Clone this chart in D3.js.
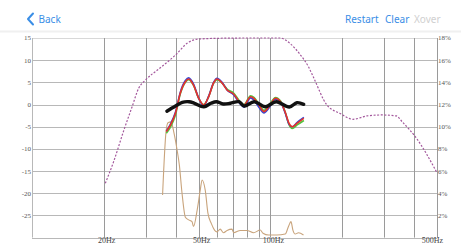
<!DOCTYPE html>
<html lang="en">
<head>
<meta charset="UTF-8">
<title>Measurement</title>
<script src="https://d3js.org/d3.v7.min.js"></script>
<style>
  body { margin: 0; background: #fff; }
  .nav { font: 10px "Noto Sans", "Liberation Sans", sans-serif; }
  .tick-label { font: 7px "Liberation Serif", "DejaVu Serif", serif; fill: #555; }
  .x-label { font: 8px "Liberation Serif", "DejaVu Serif", serif; fill: #444; }
</style>
</head>
<body>
<svg width="461" height="244"></svg>
<script>
// ---- data ----
const dbTicks = [15, 10, 5, 0, -5, -10, -15, -20, -25];
const pctTicks = [18, 16, 14, 12, 10, 8, 6, 4, 2];
const freqGrid = [20, 30, 40, 50, 60, 70, 80, 90, 100, 200, 300, 400, 500];
const freqLabels = [20, 50, 100, 500];

// dashed purple curve, right axis (%)
const purpleFreq = [20.3, 22.0, 24.3, 26.3, 28.0, 29.9, 34.0, 40.0, 44.9, 49.6, 59.9, 80, 100, 110, 121, 133.4, 144.5, 151.3, 172.6, 196, 222, 254, 293, 338, 357, 410, 500];
const purplePct  = [4.9, 6.85, 9.7, 11.8, 13.46, 14.2, 15.2, 16.47, 17.55, 17.9, 17.97, 18, 18, 18, 17.5, 16.5, 15.4, 14.5, 11.96, 11.2, 10.67, 10.97, 11.06, 10.97, 10.45, 8.96, 5.85];

// measured responses (dB)
const respFreq = [36.6, 38.1, 40.0, 41.9, 44.0, 45.4, 47.6, 50.0, 52.5, 55.1, 57.8, 59.7, 62.7, 65.8, 70.1, 75.0, 77.5, 82.6, 85.3, 89.5, 94.0, 98.6, 105.1, 110.3, 115.7, 119.6, 123.5, 129.6, 138.2];
const redDb   = [-6.1, -4.6, -1.9, 2.6, 5.15, 5.76, 4.4, 1.47, -0.1, 1.77, 4.86, 5.76, 4.86, 3.28, 2.38, 0.28, -0.1, 1.77, 1.4, -0.1, -1.6, -0.5, 1.4, 0.64, -1.9, -4.2, -5.0, -4.2, -3.1];
const blueDb  = [-6.0, -4.4, -1.7, 2.8, 5.4, 6.0, 4.6, 1.5, -0.3, 1.9, 5.0, 5.9, 5.0, 3.3, 2.2, 0.0, -0.6, 1.5, 1.0, -0.6, -1.9, -0.8, 1.2, 0.5, -2.1, -4.4, -5.0, -4.0, -2.9];
const greenDb = [-6.5, -5.1, -2.3, 2.4, 5.0, 5.6, 4.3, 1.4, 0.0, 1.8, 4.8, 5.6, 4.9, 3.5, 2.6, 0.5, 0.0, 1.95, 1.6, 0.1, -1.3, -0.2, 1.6, 0.8, -1.9, -4.5, -5.4, -4.6, -3.6];

// target curve (dB)
const targetFreq = [36.8, 40.0, 42.7, 45.6, 48.0, 52.6, 56.3, 59.3, 63.4, 67.9, 73.8, 77.7, 85.6, 95.1, 105.8, 120, 129.2, 138];
const targetDb   = [-1.5, -0.33, 0.5, 0.64, 0.28, -0.5, 0.28, 0.64, 0.12, 0.28, 0.64, -0.33, 0.64, -0.5, 0.64, -0.55, 0.41, 0.05];

// brown trace (dB)
const brownFreq = [35.3, 36.5, 37.2, 38.3, 39.3, 40.6, 41.5, 42.6, 44.0, 45.4, 46.9, 47.6, 49.3, 50.8, 51.7, 53.3, 54.7, 56.5, 58.3, 59.7, 61.6, 63.6, 65.8, 69.0, 70.1, 74.8, 79.7, 85.0, 90.7, 93.1, 98.2, 106.5, 115.4, 119.1, 122.0, 124.3, 127.1, 131.2, 137.7];
const brownDb   = [-20.4, -6.1, -4.1, -3.9, -6.1, -10.2, -13.6, -20.0, -25.4, -26.0, -26.4, -27.5, -23.8, -19.3, -17.0, -19.3, -24.5, -26.8, -28.3, -28.7, -28.1, -28.9, -28.4, -28.1, -28.9, -28.4, -28.4, -28.9, -28.3, -29.0, -29.4, -29.4, -29.2, -27.5, -26.4, -28.3, -29.2, -28.9, -29.4];

// ---- layout ----
const svg = d3.select("svg");
const plotLeft = 32, plotRight = 437, plotTop = 38, plotBottom = 237.6;

const x = d3.scaleLog().domain([10, 500]).range([plotLeft, plotRight]);
const yDb = d3.scaleLinear().domain([-30, 15]).range([plotBottom, plotTop]);
const yPct = d3.scaleLinear().domain([0, 18]).range([plotBottom, plotTop]);

// nav bar
const nav = svg.append("g").attr("class", "nav");
nav.append("path")
    .attr("d", "M33,13.5 L28,19 L33,24.5")
    .attr("fill", "none")
    .attr("stroke", "#3a8ee6")
    .attr("stroke-width", 2)
    .attr("stroke-linecap", "round")
    .attr("stroke-linejoin", "round");
nav.append("text").attr("x", 38.5).attr("y", 22.5).attr("fill", "#3a8ee6").text("Back");
nav.append("text").attr("x", 345).attr("y", 22.5).attr("fill", "#3a8ee6").text("Restart");
nav.append("text").attr("x", 385).attr("y", 22.5).attr("fill", "#3a8ee6").text("Clear");
nav.append("text").attr("x", 414).attr("y", 22.5).attr("fill", "#d0d0d0").text("Xover");
svg.append("rect").attr("x", 0).attr("y", 30.5).attr("width", 461).attr("height", 2).attr("fill", "#f0f0f0");

// grid
const grid = svg.append("g");
grid.selectAll("line.h")
    .data(d3.range(-30, 16, 5))
    .enter().append("line")
    .attr("x1", plotLeft).attr("x2", plotRight)
    .attr("y1", d => Math.round(yDb(d)) + 0.5)
    .attr("y2", d => Math.round(yDb(d)) + 0.5)
    .attr("stroke", d => d === 15 ? "#d8d8d8" : "#b8b8b8");

grid.selectAll("line.v")
    .data(freqGrid)
    .enter().append("line")
    .attr("y1", plotTop).attr("y2", plotBottom)
    .attr("x1", d => Math.round(x(d)) + 0.5)
    .attr("x2", d => Math.round(x(d)) + 0.5)
    .attr("stroke", "#9a9a9a");

grid.append("line")
    .attr("x1", plotLeft + 0.5).attr("x2", plotLeft + 0.5)
    .attr("y1", plotTop).attr("y2", plotBottom)
    .attr("stroke", "#b8b8b8");

// tick labels
svg.selectAll("text.l")
    .data(dbTicks)
    .enter().append("text")
    .attr("class", "tick-label")
    .attr("x", 31).attr("y", d => yDb(d))
    .attr("dy", "0.35em")
    .attr("text-anchor", "end")
    .text(d => d);

svg.selectAll("text.r")
    .data(pctTicks)
    .enter().append("text")
    .attr("class", "tick-label")
    .attr("x", 438).attr("y", d => yPct(d))
    .attr("dy", "0.35em")
    .text(d => d + "%");

svg.selectAll("text.x")
    .data(freqLabels)
    .enter().append("text")
    .attr("class", "x-label")
    .attr("x", d => d === 500 ? x(d) + 6 : x(d) + 3)
    .attr("y", 243)
    .attr("text-anchor", d => d === 500 ? "end" : "middle")
    .text(d => d + "Hz");

// curves
const lineOf = (fs, vs, ys) => d3.line()
    .x((d, i) => x(fs[i]))
    .y((d, i) => ys(vs[i]))
    .curve(d3.curveMonotoneX)(vs);

svg.append("path")
    .attr("d", lineOf(purpleFreq, purplePct, yPct))
    .attr("fill", "none")
    .attr("stroke", "#a3579c")
    .attr("stroke-width", 1.2)
    .attr("stroke-dasharray", "2,1.6");

svg.append("path")
    .attr("d", lineOf(brownFreq, brownDb, yDb))
    .attr("fill", "none")
    .attr("stroke", "#c9a47c")
    .attr("stroke-width", 1.1);

[[greenDb, "#52c43c"], [blueDb, "#3348d6"], [redDb, "#e8322a"]].forEach(([vals, col]) => {
    svg.append("path")
        .attr("d", lineOf(respFreq, vals, yDb))
        .attr("fill", "none")
        .attr("stroke", col)
        .attr("stroke-width", 1.6);
});

svg.append("path")
    .attr("d", d3.line()
        .x((d, i) => x(targetFreq[i]))
        .y(d => yDb(d))
        .curve(d3.curveCatmullRom)(targetDb))
    .attr("fill", "none")
    .attr("stroke", "#111")
    .attr("stroke-width", 3.4)
    .attr("stroke-linecap", "round");
</script>
</body>
</html>
